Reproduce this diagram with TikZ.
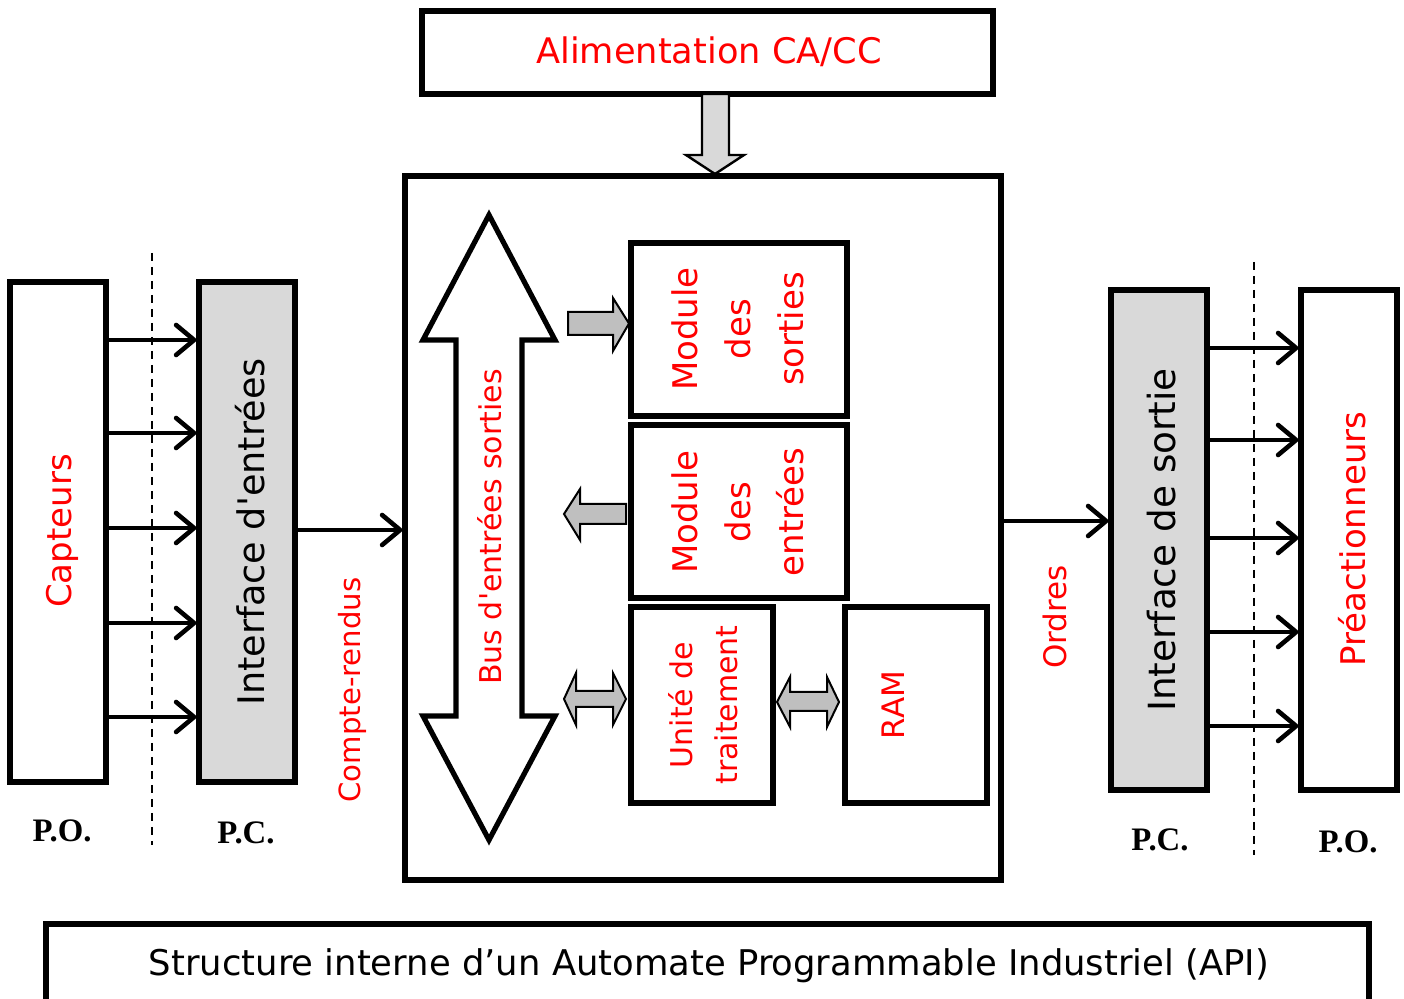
\documentclass[tikz,border=0pt]{standalone}
\usepackage{fontspec}
\setmainfont{DejaVu Sans}[Ligatures=TeXOff]
\newfontfamily\pofont{Liberation Serif}
\usetikzlibrary{arrows.meta}
\definecolor{lightgrey}{HTML}{D9D9D9}
\definecolor{midgrey}{HTML}{BFBFBF}
\begin{document}
\begin{tikzpicture}[x=0.5pt,y=-0.5pt,
  box/.style={draw=black,line width=2.6pt,fill=white,inner sep=0pt,
    minimum width=#1},
  box/.default=48pt,
  greybox/.style={box=48pt,fill=lightgrey},
  lbl/.style={text=red,font=\fontsize{17}{20}\selectfont,inner sep=0pt},
  conn/.style={line width=2.3pt,-{Straight Barb[length=9pt,width=15pt,round]}},
  sep/.style={line width=1pt,dash pattern=on 4pt off 3pt},
  blockarrow/.style={draw=black,line width=1pt,fill=midgrey,line join=miter},
  polbl/.style={font=\pofont\bfseries\fontsize{16.4}{18}\selectfont,inner sep=0pt}]
\useasboundingbox (0,0) rectangle (1404,999);
\clip (0,0) rectangle (1404,999);

% power supply and its feed arrow
\node[box=285.5pt,minimum height=41.5pt] (alim) at (707.5,52.5) {};
\node[lbl,font=\fontsize{17.6}{20}\selectfont] at (709,52) {Alimentation CA/CC};
\node[box=298pt,minimum height=352pt] (api) at (703,528) {};
\filldraw[draw=black,line width=1.2pt,fill=lightgrey,line join=miter]
  (702,94) -- (729,94) -- (729,155) -- (744,155) -- (715,174)
  -- (686,155) -- (702,155) -- cycle;

% internal bus
\filldraw[draw=black,line width=2.6pt,fill=white,line join=miter]
  (489,215) -- (555,340) -- (522,340) -- (522,716) -- (555,716)
  -- (489,840) -- (423,716) -- (456,716) -- (456,340) -- (423,340) -- cycle;
\node[lbl,rotate=90,font=\fontsize{15}{18}\selectfont] (bus) at (490,527) {Bus d'entrées sorties};

% modules inside the controller
\node[box=108pt,minimum height=86.5pt] (mods) at (739,329.5) {};
\node[lbl,rotate=90,align=center,font=\fontsize{17}{26.5}\selectfont] at (738,329) {Module\\des\\sorties};
\node[box=108pt,minimum height=86.5pt] (mode) at (739,511.5) {};
\node[lbl,rotate=90,align=center,font=\fontsize{17}{26.5}\selectfont] at (738,512) {Module\\des\\entrées};
\node[box=71pt,minimum height=98pt] (ut) at (702,705) {};
\node[lbl,rotate=90,align=center,font=\fontsize{15}{22.5}\selectfont] at (703,705) {Unité de\\traitement};
\node[box=71pt,minimum height=98pt] (ram) at (916,705) {};
\node[lbl,rotate=90,font=\fontsize{15.5}{18}\selectfont] at (893,705) {RAM};

% transfer arrows between bus and modules
\filldraw[blockarrow] (568,312) -- (613,312) -- (613,298) -- (629,323.5)
  -- (613,351) -- (613,335) -- (568,335) -- cycle;
\filldraw[blockarrow] (626,504) -- (580,504) -- (580,489) -- (564,514)
  -- (580,540) -- (580,524) -- (626,524) -- cycle;
\filldraw[blockarrow] (564,699) -- (576,673) -- (576,691) -- (613,691)
  -- (613,673) -- (626,699) -- (613,725) -- (613,707) -- (576,707)
  -- (576,725) -- cycle;
\filldraw[blockarrow] (777,702) -- (790,677) -- (790,692) -- (827,692)
  -- (827,677) -- (839,702) -- (827,727) -- (827,711) -- (790,711)
  -- (790,727) -- cycle;

% input side
\node[box=48pt,minimum height=250pt] (capt) at (58,532) {};
\node[lbl,rotate=90] at (62,531) {Capteurs};
\node[greybox,minimum height=250pt] (ie) at (247,532) {};
\node[rotate=90,inner sep=0pt,font=\fontsize{18.3}{20}\selectfont] at (250,532) {Interface d'entrées};
\draw[sep] (152,253) -- (152,845);
\foreach \yy in {340,433,528,623,717}
  \draw[conn] (capt.east |- 0,\yy) -- (ie.west |- 0,\yy);
\draw[conn] (ie.east |- 0,530) -- (api.west |- 0,530);
\node[lbl,rotate=90,font=\fontsize{14.6}{18}\selectfont] at (352,690) {Compte-rendus};
\node[polbl] at (62,831) {P.O.};
\node[polbl] at (246,833) {P.C.};

% output side
\node[greybox,minimum height=250pt] (is) at (1159,540) {};
\node[rotate=90,inner sep=0pt,font=\fontsize{18.7}{20}\selectfont] at (1162,540) {Interface de sortie};
\node[box=48pt,minimum height=250pt] (pre) at (1349,540) {};
\node[lbl,rotate=90] at (1352,539) {Préactionneurs};
\draw[sep] (1254,262) -- (1254,855);
\foreach \yy in {348,440,538,632,726}
  \draw[conn] (is.east |- 0,\yy) -- (pre.west |- 0,\yy);
\draw[conn] (api.east |- 0,521) -- (is.west |- 0,521);
\node[lbl,rotate=90,font=\fontsize{15.5}{18}\selectfont] at (1055,617) {Ordres};
\node[polbl] at (1160,840) {P.C.};
\node[polbl] at (1348,842) {P.O.};

% caption frame
\node[box=661.5pt,minimum height=53pt] (cap) at (707.5,977) {};
\node[inner sep=0pt,font=\fontsize{17.7}{20}\selectfont] at (709,966) {Structure interne d’un Automate Programmable Industriel (API)};
\end{tikzpicture}
\end{document}
